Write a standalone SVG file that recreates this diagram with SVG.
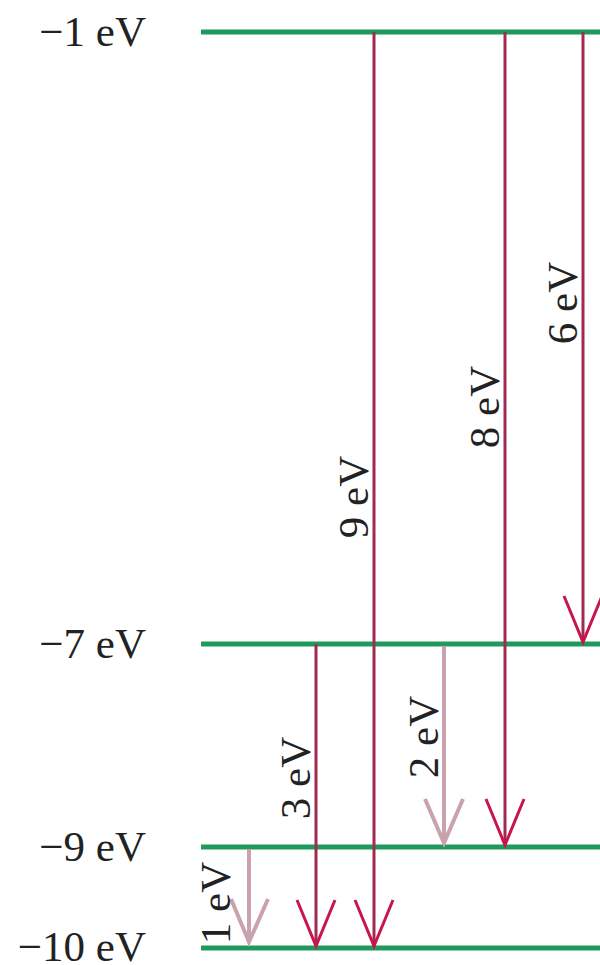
<svg xmlns="http://www.w3.org/2000/svg" width="600" height="965" viewBox="0 0 600 965">
<style>
.lvl{stroke:#1f9a5c;stroke-width:5;fill:none}
.lab{font-family:"Liberation Serif","Times New Roman",serif;font-size:43px;fill:#222;text-anchor:end}
.rl{font-family:"Liberation Serif","Times New Roman",serif;font-size:43px;fill:#222;text-anchor:middle}
.dk{stroke:#a02a50;stroke-width:3;fill:none}
.dkh{stroke:#c8164c;stroke-width:3;fill:none}
.lt{stroke:#c9a2ad;stroke-width:4;fill:none}
</style>
<rect width="600" height="965" fill="#fff"/>
<g id="levels">
<g id="level-1"><line class="lvl" x1="201" y1="32" x2="600" y2="32"/><text class="lab" x="146" y="46">−1 eV</text></g>
<g id="level-7"><line class="lvl" x1="201" y1="644" x2="600" y2="644"/><text class="lab" x="146" y="658">−7 eV</text></g>
<g id="level-9"><line class="lvl" x1="201" y1="847" x2="600" y2="847"/><text class="lab" x="146" y="861">−9 eV</text></g>
<g id="level-10"><line class="lvl" x1="201" y1="948" x2="600" y2="948"/><text class="lab" x="146" y="961">−10 eV</text></g>
</g>
<g id="connectors">
<g id="t9"><line class="dk" x1="374" y1="32" x2="374" y2="946"/><polyline class="dkh" points="355,900 374,946 393,900"/><text class="rl" transform="translate(368,497) rotate(-90)">9 eV</text></g>
<g id="t8"><line class="dk" x1="505" y1="32" x2="505" y2="845"/><polyline class="dkh" points="486,799 505,845 524,799"/><text class="rl" transform="translate(499,407) rotate(-90)">8 eV</text></g>
<g id="t6"><line class="dk" x1="583" y1="32" x2="583" y2="642"/><polyline class="dkh" points="564,596 583,642 602,596"/><text class="rl" transform="translate(577,303) rotate(-90)">6 eV</text></g>
<g id="t3"><line class="dk" x1="316" y1="644" x2="316" y2="946"/><polyline class="dkh" points="297,900 316,946 335,900"/><text class="rl" transform="translate(310,778) rotate(-90)">3 eV</text></g>
<g id="t2"><line class="lt" x1="444" y1="646" x2="444" y2="843"/><polyline class="lt" points="425,799 444,843 463,799"/><text class="rl" transform="translate(438,737) rotate(-90)">2 eV</text></g>
<g id="t1"><line class="lt" x1="249" y1="849" x2="249" y2="942"/><polyline class="lt" points="231,899 249,942 268,899"/><text class="rl" transform="translate(230,903) rotate(-90)">1 eV</text></g>
</g>
</svg>
